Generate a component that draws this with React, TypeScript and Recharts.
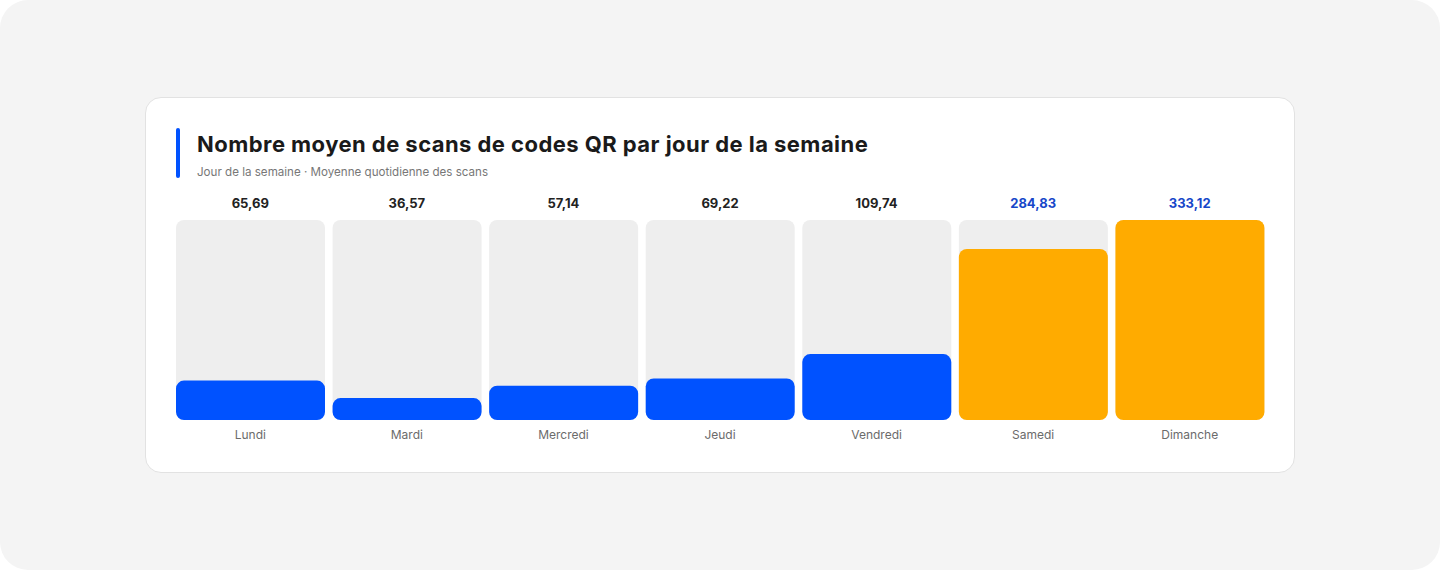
import React from "react";
import { BarChart, Bar, XAxis, YAxis, Cell } from "recharts";

const days = ["Lundi", "Mardi", "Mercredi", "Jeudi", "Vendredi", "Samedi", "Dimanche"];
const avgScans = [65.69, 36.57, 57.14, 69.22, 109.74, 284.83, 333.12];
const weekend = ["Samedi", "Dimanche"];

const BLUE = "#0052ff";
const ORANGE = "#ffab00";
const FONT = "Inter, 'Noto Sans', sans-serif";

const fmt = (v: number) => v.toFixed(2).replace(".", ",");

const data = days.map((day, i) => ({ day, value: avgScans[i], label: fmt(avgScans[i]) }));

const ValueTick = (props: any) => {
  const { x, y, payload, index } = props;
  const isWeekend = weekend.includes(days[index]);
  return (
    <text
      x={x}
      y={y}
      dy={-12}
      textAnchor="middle"
      fontFamily={FONT}
      fontSize={13}
      fontWeight={700}
      fill={isWeekend ? "#1747c9" : "#222222"}
    >
      {payload.value}
    </text>
  );
};

const DayTick = (props: any) => {
  const { x, y, payload } = props;
  return (
    <text x={x} y={y} dy={19} textAnchor="middle" fontFamily={FONT} fontSize={12} fill="#6b6b6b">
      {payload.value}
    </text>
  );
};

export default function App(): JSX.Element {
  return (
    <div
      style={{
        position: "absolute",
        top: 0,
        left: 0,
        width: 1440,
        height: 570,
        background: "#ffffff",
        fontFamily: FONT,
      }}
    >
      <div
        style={{
          position: "absolute",
          inset: 0,
          background: "#f4f4f4",
          borderRadius: 28,
        }}
      />
      <div
        style={{
          position: "absolute",
          left: 145,
          top: 97,
          width: 1148,
          height: 374,
          background: "#ffffff",
          border: "1px solid #e2e2e2",
          borderRadius: 16,
        }}
      >
        <div
          style={{
            position: "absolute",
            left: 30,
            top: 30,
            width: 4,
            height: 50,
            borderRadius: 2,
            background: BLUE,
          }}
        />
        <div
          style={{
            position: "absolute",
            left: 51,
            top: 33,
            fontSize: 22,
            fontWeight: 700,
            letterSpacing: 0.45,
            color: "#1a1a1a",
            whiteSpace: "nowrap",
          }}
        >
          Nombre moyen de scans de codes QR par jour de la semaine
        </div>
        <div
          style={{
            position: "absolute",
            left: 51,
            top: 67,
            fontSize: 11.6,
            color: "#777777",
            whiteSpace: "nowrap",
          }}
        >
          Jour de la semaine · Moyenne quotidienne des scans
        </div>
        <div style={{ position: "absolute", left: 26, top: 82 }}>
          <BarChart
            width={1096}
            height={280}
            data={data}
            margin={{ top: 0, right: 0, bottom: 0, left: 0 }}
            barCategoryGap={4}
          >
            <XAxis
              xAxisId="top"
              orientation="top"
              dataKey="label"
              height={40}
              axisLine={false}
              tickLine={false}
              tickSize={0}
              tickMargin={0}
              interval={0}
              tick={<ValueTick />}
            />
            <XAxis
              dataKey="day"
              height={40}
              axisLine={false}
              tickLine={false}
              tickSize={0}
              tickMargin={0}
              interval={0}
              tick={<DayTick />}
            />
            <YAxis hide domain={[0, "dataMax"]} />
            <Bar
              dataKey="value"
              radius={8}
              background={{ fill: "#eeeeee", radius: 8 }}
              isAnimationActive={false}
            >
              {data.map((d) => (
                <Cell key={d.day} fill={weekend.includes(d.day) ? ORANGE : BLUE} />
              ))}
            </Bar>
          </BarChart>
        </div>
      </div>
    </div>
  );
}
